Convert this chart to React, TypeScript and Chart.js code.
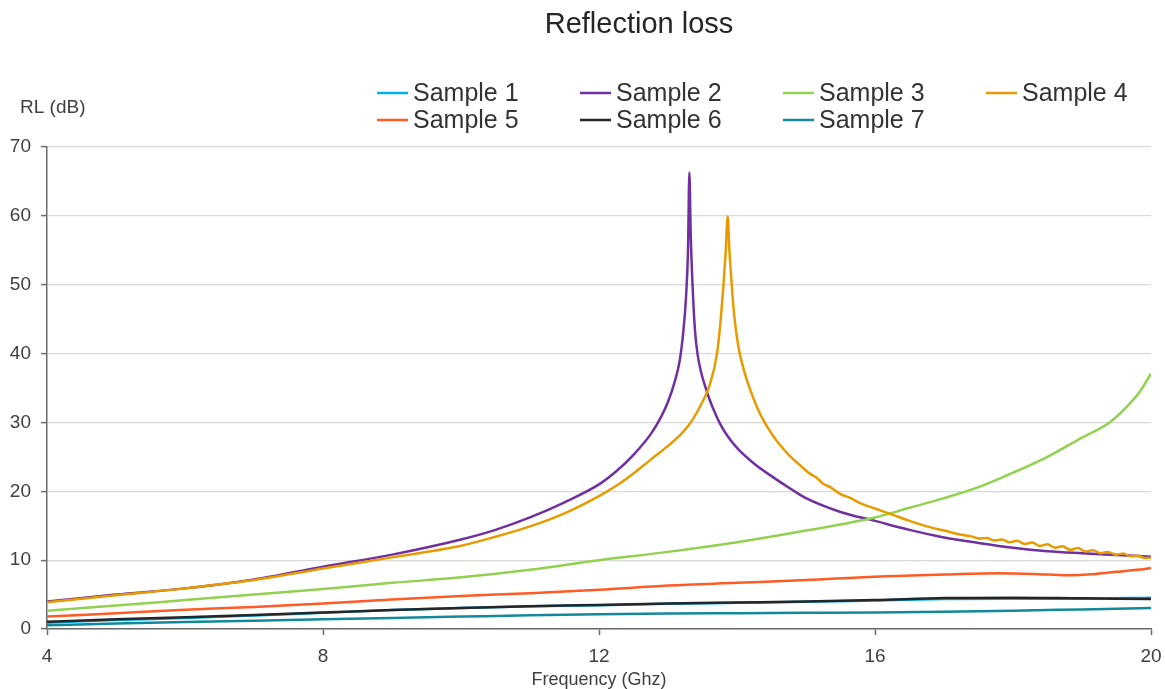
import { useEffect, useRef } from "react";
import { Chart, registerables } from "chart.js";

Chart.register(...registerables);

const CHART_TITLE = "Reflection loss";
const X_AXIS_TITLE = "Frequency (Ghz)";
const Y_AXIS_TITLE = "RL (dB)";

const SERIES_NAMES = ["Sample 1", "Sample 2", "Sample 3", "Sample 4", "Sample 5", "Sample 6", "Sample 7"];
const SERIES_COLORS = ["#00b0f0", "#7030a0", "#92d050", "#e89b00", "#ff5b25", "#262626", "#12899a"];

const X_TICKS = [4, 8, 12, 16, 20];
const Y_TICKS = [0, 10, 20, 30, 40, 50, 60, 70];

// Sample 1
const s1Freq = [4, 5, 6, 7, 8, 9, 10, 11, 12, 13, 14, 15, 16, 17, 18, 19, 20];
const s1RL = [0.9, 1.3, 1.6, 1.95, 2.35, 2.75, 3.05, 3.3, 3.45, 3.65, 3.8, 3.95, 4.15, 4.35, 4.4, 4.4, 4.55];

// Sample 2
const s2Freq = [4, 5, 6, 7, 8, 9, 10, 10.5, 11, 11.5, 12, 12.25, 12.5, 12.75, 12.9, 13.0, 13.1, 13.17, 13.22, 13.26, 13.29, 13.31,
  13.33, 13.36, 13.39, 13.43, 13.48, 13.54, 13.6, 13.68, 13.75, 13.85, 14.0, 14.25, 14.5, 14.77, 15.0, 15.5, 16.0, 16.5, 17.0, 17.5, 18.0, 18.5, 19.0, 19.5, 20.0];
const s2RL = [4.0, 5.0, 5.9, 7.2, 9.05, 10.8, 13.0, 14.4, 16.2, 18.4, 21.0, 22.9, 25.3, 28.3, 30.8, 33.0, 36.0, 39.0, 43, 48, 55, 66.3,
  57, 49, 43.5, 39.8, 37.3, 35.2, 33.4, 31.4, 29.9, 28.2, 26.3, 24.0, 22.2, 20.4, 19.0, 17.0, 15.7, 14.4, 13.3, 12.5, 11.8, 11.3, 11.0, 10.75, 10.5];

// Sample 3
const s3Freq = [4, 5, 6, 7, 8, 9, 10, 11, 12, 13, 14, 15, 16, 16.5, 17, 17.5, 18, 18.5, 19, 19.4, 19.65, 19.84, 20];
const s3RL = [2.65, 3.4, 4.2, 5.0, 5.8, 6.7, 7.5, 8.6, 10.0, 11.2, 12.6, 14.3, 16.2, 17.6, 19.0, 20.6, 22.7, 25.0, 27.8, 30.0, 32.3, 34.5, 37.1];

// Sample 4
const s4Freq = [4, 5, 6, 7, 8, 9, 10, 10.5, 11, 11.5, 12, 12.25, 12.5, 12.75, 13, 13.2, 13.35, 13.5, 13.6, 13.71, 13.76, 13.8, 13.835, 13.865,
  13.89, 13.92, 13.96, 14.02, 14.1, 14.2, 14.3, 14.4, 14.5, 14.6, 14.75, 14.9, 15.05, 15.15, 15.25, 15.35, 15.5, 15.65, 15.8, 16.0, 16.25, 16.5, 16.75, 17.0, 17.25,
  17.4, 17.51, 17.62, 17.73, 17.84, 17.95, 18.06, 18.17, 18.28, 18.39, 18.5, 18.61, 18.72, 18.83, 18.94, 19.05, 19.16, 19.27, 19.38, 19.49, 19.6, 19.71, 19.82, 19.91, 20.0];
const s4RL = [3.9, 4.9, 5.9, 7.1, 8.8, 10.4, 12.1, 13.4, 14.9, 16.8, 19.3, 20.8, 22.6, 24.6, 26.6, 28.4, 30.3, 33.0, 35.3, 40, 44.5, 49.5, 54.5, 59.9,
  55, 50.5, 45.5, 41, 37.6, 34.5, 32.0, 30.0, 28.4, 27.0, 25.3, 23.9, 22.6, 22.0, 21.1, 20.6, 19.6, 19.0, 18.2, 17.5, 16.6, 15.7, 14.9, 14.3, 13.7,
  13.45, 13.15, 13.2, 12.85, 13.0, 12.6, 12.8, 12.35, 12.55, 12.05, 12.3, 11.8, 12.0, 11.5, 11.75, 11.25, 11.45, 11.0, 11.2, 10.8, 10.95, 10.55, 10.65, 10.3, 10.35];

// Sample 5
const s5Freq = [4, 5, 6, 7, 8, 9, 10, 11, 12, 13, 14, 15, 16, 17, 17.8, 18.3, 18.8, 19.2, 19.5, 19.8, 20];
const s5RL = [1.8, 2.3, 2.8, 3.2, 3.7, 4.3, 4.8, 5.2, 5.7, 6.3, 6.7, 7.1, 7.6, 7.9, 8.1, 8.0, 7.8, 8.0, 8.3, 8.6, 8.85];

// Sample 6
const s6Freq = [4, 5, 6, 7, 8, 9, 10, 11, 12, 13, 14, 15, 16, 17, 18, 19, 20];
const s6RL = [1.05, 1.4, 1.7, 2.05, 2.4, 2.75, 3.05, 3.3, 3.5, 3.7, 3.85, 4.0, 4.2, 4.5, 4.55, 4.45, 4.35];

// Sample 7
const s7Freq = [4, 5, 6, 7, 8, 9, 10, 11, 12, 13, 14, 15, 16, 17, 18, 19, 20];
const s7RL = [0.55, 0.8, 1.0, 1.2, 1.4, 1.6, 1.8, 2.0, 2.15, 2.25, 2.3, 2.35, 2.4, 2.5, 2.65, 2.85, 3.05];

const SERIES_FREQS = [s1Freq, s2Freq, s3Freq, s4Freq, s5Freq, s6Freq, s7Freq];
const SERIES_VALUES = [s1RL, s2RL, s3RL, s4RL, s5RL, s6RL, s7RL];

const FONT = "'Liberation Sans', Arial, sans-serif";
const TEXT_COLOR = "#404040";

const LEGEND_COLS = [377, 580, 783, 986];
const LEGEND_ROWS = [93, 120];

const overlayPlugin = {
  id: "overlay",
  afterDraw(chart: any) {
    const ctx = chart.ctx;
    ctx.save();
    // title
    ctx.fillStyle = "#262626";
    ctx.font = `29px ${FONT}`;
    ctx.textAlign = "center";
    ctx.textBaseline = "middle";
    ctx.fillText(CHART_TITLE, 639, 25);
    // y axis title
    ctx.fillStyle = TEXT_COLOR;
    ctx.font = `19px ${FONT}`;
    ctx.textAlign = "left";
    ctx.fillText(Y_AXIS_TITLE, 20, 108);
    // legend
    ctx.font = `25px ${FONT}`;
    SERIES_NAMES.forEach((name, i) => {
      const x = LEGEND_COLS[i % 4];
      const y = LEGEND_ROWS[Math.floor(i / 4)];
      ctx.strokeStyle = SERIES_COLORS[i];
      ctx.lineWidth = 2.5;
      ctx.beginPath();
      ctx.moveTo(x, y);
      ctx.lineTo(x + 31, y);
      ctx.stroke();
      ctx.fillStyle = "#333333";
      ctx.fillText(name, x + 36, y + 1);
    });
    ctx.restore();
  },
};

export default function App() {
  const canvasRef = useRef<HTMLCanvasElement | null>(null);

  useEffect(() => {
    const canvas = canvasRef.current;
    if (!canvas) return;
    const datasets = SERIES_NAMES.map((name, i) => ({
      label: name,
      data: SERIES_FREQS[i].map((f, j) => ({ x: f, y: SERIES_VALUES[i][j] })),
      borderColor: SERIES_COLORS[i],
      backgroundColor: SERIES_COLORS[i],
      borderWidth: 2.5,
      pointRadius: 0,
      cubicInterpolationMode: "monotone" as const,
      fill: false,
      order: 10 - i,
    }));
    const chart = new Chart(canvas, {
      type: "line",
      data: { datasets },
      options: {
        responsive: false,
        animation: false,
        devicePixelRatio: 1,
        layout: { padding: { top: 147, right: 14, bottom: 0, left: 0 } },
        plugins: {
          legend: { display: false },
          title: { display: false },
          tooltip: { enabled: false },
        },
        scales: {
          x: {
            type: "linear",
            min: 4,
            max: 20,
            afterBuildTicks: (scale: any) => {
              scale.ticks = X_TICKS.map((v) => ({ value: v }));
            },
            afterFit: (scale: any) => {
              scale.height = 60;
              scale.paddingLeft = 0;
              scale.paddingRight = 0;
            },
            ticks: {
              color: TEXT_COLOR,
              font: { family: FONT, size: 19 },
              padding: 10,
              maxRotation: 0,
            },
            grid: {
              drawOnChartArea: false,
              drawTicks: true,
              tickLength: 6,
              tickColor: "#6b6b6b",
              tickWidth: 1.5,
            },
            border: { color: "#6b6b6b", width: 1.5 },
            title: {
              display: true,
              text: X_AXIS_TITLE,
              color: TEXT_COLOR,
              font: { family: FONT, size: 18 },
              padding: { top: 0, bottom: -2 },
            },
          },
          y: {
            type: "linear",
            min: 0,
            max: 70,
            afterBuildTicks: (scale: any) => {
              scale.ticks = Y_TICKS.map((v) => ({ value: v }));
            },
            afterFit: (scale: any) => {
              scale.width = 47;
              scale.paddingTop = 0;
              scale.paddingBottom = 0;
            },
            ticks: {
              color: TEXT_COLOR,
              font: { family: FONT, size: 19 },
              padding: 10,
            },
            grid: {
              color: "#d9d9d9",
              lineWidth: 1.2,
              drawTicks: true,
              tickLength: 6,
              tickColor: "#6b6b6b",
              tickWidth: 1.5,
            },
            border: { color: "#6b6b6b", width: 1.5 },
          },
        },
      },
      plugins: [overlayPlugin],
    });
    return () => chart.destroy();
  }, []);

  return (
    <div style={{ position: "fixed", left: 0, top: 0, width: 1165, height: 689, background: "#ffffff" }}>
      <canvas ref={canvasRef} width={1165} height={689} style={{ display: "block" }} />
    </div>
  );
}
